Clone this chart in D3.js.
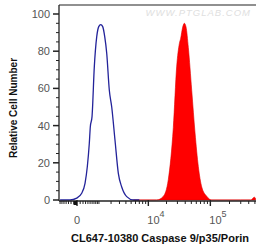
<!DOCTYPE html>
<html><head><meta charset="utf-8">
<script src="https://cdn.jsdelivr.net/npm/d3@7"></script>
<style>body{margin:0;background:#fff;}svg{display:block;font-family:"Liberation Sans",Arial,sans-serif;}</style>
</head><body>
<svg id="c" width="256" height="249"></svg>
<script>
// Control (unstained) histogram: fluorescence intensity vs relative count
const blueX = [-700,-531,-239,-9,153,278,374,463,511,596,719,860,986,1122,1265,1423,1591,1829,2069,2436,2848,3326,4146,5478,7000];
const blueY = [0,0,0,1,3.6,9,18,30.5,39.4,44.8,71.7,87.8,93.2,94.3,93.2,87.8,78.9,59,50,32,14.3,7,1.8,0,0];
// Stained histogram
const redX = [5478,13811,17735,21392,25773,29238,32195,33886,36485,38735,41192,44815,50730,57310,64558,73137,87632,105041,300000,430000,465000,490000,510000];
const redY = [0,0,2,11,39,72,84,87,93,95,93,82,59,36,18,7,2,0,0,0,1,1.5,1];
const yTicks = [0,20,40,60,80,100];
const xMajor = [0,1e4,1e5];
const xLabels = ["0","10|4","10|5"];
const xMinor = [-700,-600,-500,-400,-300,-200,-100,100,200,300,400,500,600,700,800,900,1000,2000,3000,4000,5000,6000,7000,8000,9000,20000,30000,40000,50000,60000,70000,80000,90000,200000,300000,400000,500000];
const xTitle = "CL647-10380 Caspase 9/p35/Porin";
const yTitle = "Relative Cell Number";
const watermark = "WWW.PTGLAB.COM";

const svg = d3.select("#c");
const L = 59, R = 256, T = 5, B = 201;
const x = d3.scaleSymlog().constant(833).domain([-760, 5.2e5]).range([L, R]);
const y = d3.scaleLinear().domain([0, 100]).range([200, 14]);

// watermark
svg.append("text").attr("x", 251).attr("y", 16).attr("text-anchor", "end")
  .attr("font-size", 9.5).attr("font-style", "italic").attr("fill", "#e0e0e0")
  .attr("letter-spacing", 1).text(watermark);

// red filled histogram
const area = d3.area().x((d,i)=>x(redX[i])).y0(y(0)).y1(d=>y(d)).curve(d3.curveMonotoneX);
svg.append("path").datum(redY).attr("d", area).attr("fill", "#ff0000").attr("stroke", "#e00000").attr("stroke-width", 0.6);

// blue line
const line = d3.line().x((d,i)=>x(blueX[i])).y(d=>y(d)).curve(d3.curveMonotoneX);
svg.append("path").datum(blueY).attr("d", line).attr("fill", "none").attr("stroke", "#23239a").attr("stroke-width", 1.3);

// frame
svg.append("line").attr("x1", L).attr("x2", R).attr("y1", T).attr("y2", T).attr("stroke", "#222").attr("stroke-width", 1.2);
svg.append("line").attr("x1", L).attr("x2", L).attr("y1", T).attr("y2", B).attr("stroke", "#222").attr("stroke-width", 1.3);
svg.append("line").attr("x1", L).attr("x2", R).attr("y1", B).attr("y2", B).attr("stroke", "#222").attr("stroke-width", 1.3);

// y axis ticks
const yMinor = d3.range(0, 101, 5);
svg.selectAll(".ym").data(yMinor).enter().append("line")
  .attr("x1", d => d % 20 === 0 ? L - 6 : L - 3).attr("x2", L)
  .attr("y1", d => y(d)).attr("y2", d => y(d))
  .attr("stroke", "#222").attr("stroke-width", d => d % 20 === 0 ? 1.5 : 1);
svg.selectAll(".yl").data(yTicks).enter().append("text")
  .attr("x", 50).attr("y", d => y(d) + 4).attr("text-anchor", "end")
  .attr("font-size", 11).attr("fill", "#555").text(d => d);

// x axis ticks
svg.selectAll(".xm").data(xMinor).enter().append("line")
  .attr("x1", d => x(d)).attr("x2", d => x(d)).attr("y1", B).attr("y2", B + 3)
  .attr("stroke", "#222").attr("stroke-width", 1);
svg.selectAll(".xM").data(xMajor).enter().append("line")
  .attr("x1", d => x(d)).attr("x2", d => x(d)).attr("y1", B - 1).attr("y2", B + 5)
  .attr("stroke", "#222").attr("stroke-width", 1.4);
svg.append("rect").attr("x", x(0) - 3.5).attr("y", B).attr("width", 3.5).attr("height", 4).attr("fill", "#111");

xMajor.forEach((v, i) => {
  const parts = xLabels[i].split("|");
  const t = svg.append("text").attr("y", 224).attr("font-size", 11).attr("fill", "#555");
  if (parts.length === 1) {
    t.attr("x", x(v)).attr("text-anchor", "middle").text(parts[0]);
  } else {
    t.attr("x", x(v) - 1).attr("text-anchor", "start").text(parts[0]);
    t.append("tspan").attr("dy", -7).attr("font-size", 9).text(parts[1]);
  }
});

// titles
svg.append("text").attr("x", 160).attr("y", 242).attr("text-anchor", "middle")
  .attr("font-size", 11).attr("font-weight", "bold").attr("fill", "#111").text(xTitle);
svg.append("text").attr("transform", "translate(17,108) rotate(-90)").attr("text-anchor", "middle")
  .attr("font-size", 10).attr("font-weight", "bold").attr("fill", "#111").text(yTitle);
</script>
</body></html>
